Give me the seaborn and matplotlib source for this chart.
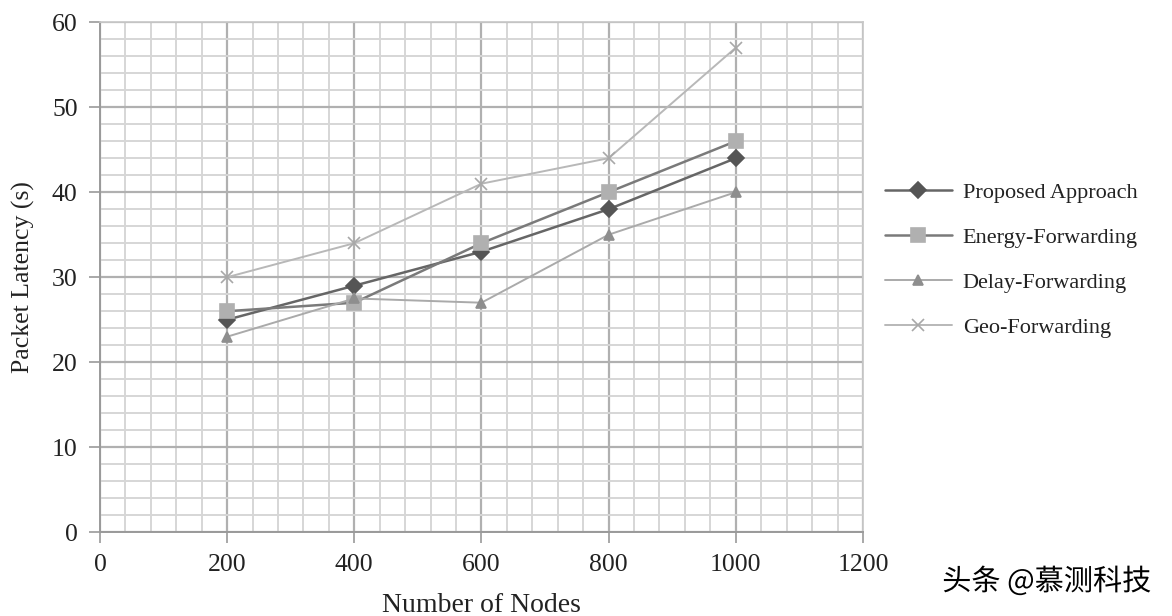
import matplotlib
matplotlib.use("Agg")
import matplotlib.pyplot as plt
import matplotlib.patheffects as pe
import seaborn as sns
import pandas as pd
from matplotlib.ticker import MultipleLocator

nodes = [200, 400, 600, 800, 1000]
proposed = [25, 29, 33, 38, 44]
energy = [26, 27, 34, 40, 46]
delay = [23, 27.5, 27, 35, 40]
geo = [30, 34, 41, 44, 57]
series_names = ["Proposed Approach", "Energy-Forwarding", "Delay-Forwarding", "Geo-Forwarding"]

sns.set_theme(style="white")
plt.rcParams['font.family'] = ['Liberation Serif', 'DejaVu Serif']

fig = plt.figure(figsize=(11.72, 6.16), dpi=100)
ax = fig.add_axes([0.0853, 0.136, 0.6510, 0.828])

styles = [
    dict(line="#666666", mfc="#555555", marker="D", ms=8, lw=1.8),
    dict(line="#7a7a7a", mfc="#b0b0b0", marker="s", ms=10, lw=1.8),
    dict(line="#aaaaaa", mfc="#8e8e8e", marker="^", ms=7, lw=1.4),
    dict(line="#b8b8b8", mfc="#a8a8a8", marker="x", ms=8, lw=1.4),
]
data = [proposed, energy, delay, geo]
for name, vals, st in zip(series_names, data, styles):
    df = pd.DataFrame({"x": nodes, "y": vals})
    sns.lineplot(data=df, x="x", y="y", ax=ax, color=st["line"], lw=st["lw"],
                 marker=st["marker"], markersize=st["ms"],
                 markerfacecolor=st["mfc"], markeredgecolor=st["mfc"],
                 markeredgewidth=1.2, label=name, zorder=3)

ax.set_xlim(0, 1200)
ax.set_ylim(0, 60)
ax.xaxis.set_major_locator(MultipleLocator(200))
ax.xaxis.set_minor_locator(MultipleLocator(40))
ax.yaxis.set_major_locator(MultipleLocator(10))
ax.yaxis.set_minor_locator(MultipleLocator(2))
ax.grid(which="major", color="#b0b0b0", lw=1.6)
ax.grid(which="minor", color="#d6d6d6", lw=1.4)
ax.set_axisbelow(True)
for s in ["top", "right"]:
    ax.spines[s].set_color("#c8c8c8")
for s in ["left", "bottom"]:
    ax.spines[s].set_color("#9a9a9a")
    ax.spines[s].set_linewidth(1.4)
ax.tick_params(axis="both", which="major", length=8, width=1.2, color="#9a9a9a",
               labelsize=18.5, labelcolor="#222222", direction="out", bottom=True, left=True, pad=8)
ax.tick_params(which="minor", length=0)

ax.set_xlabel("Number of Nodes", fontsize=20, color="#222222", labelpad=12)
ax.set_ylabel("Packet Latency (s)", fontsize=18.5, color="#222222", labelpad=12)

ax.get_legend().remove()
handles, labels = ax.get_legend_handles_labels()
fig.legend(handles, labels, loc="center left", bbox_to_anchor=(0.738, 0.578),
           frameon=False, fontsize=16, handlelength=3.0, labelspacing=1.1,
           handletextpad=0.5, labelcolor="#222222")

fig.text(0.893, 0.055, "头条 @慕测科技", family=["Noto Sans CJK SC", "DejaVu Sans"],
         fontsize=21, color="black", ha="center", va="center",
         path_effects=[pe.withStroke(linewidth=2, foreground="white")])

fig.savefig("out.png", dpi=100, facecolor="white")
